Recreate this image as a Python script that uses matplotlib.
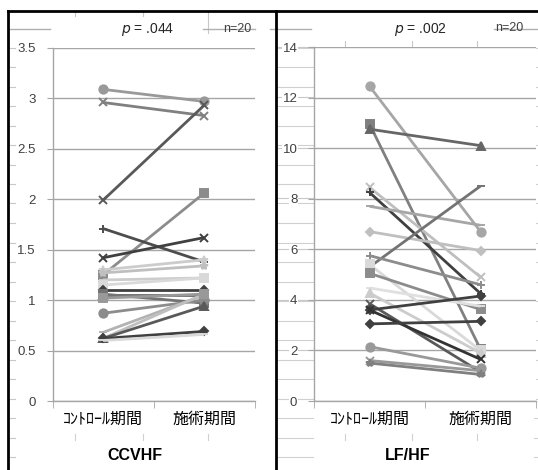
import matplotlib
matplotlib.use("Agg")
import matplotlib.pyplot as plt
from matplotlib.lines import Line2D

# data (control period -> treatment period, n=20)
categories = ["ｺﾝﾄﾛｰﾙ期間", "施術期間"]

ccvhf_control = [3.09, 2.96, 1.99, 1.25, 1.71, 1.42, 1.30, 1.27, 1.20, 1.15,
                 1.10, 1.05, 1.06, 0.87, 0.68, 0.62, 0.62, 0.62, 0.60, 1.02]
ccvhf_treat = [2.97, 2.83, 2.93, 2.06, 1.38, 1.62, 1.40, 1.34, 1.22, 1.22,
               1.10, 1.05, 0.97, 1.00, 1.05, 1.06, 0.94, 0.69, 0.66, 1.06]

lfhf_control = [12.45, 10.95, 10.75, 8.45, 8.25, 7.70, 6.70, 5.30, 5.75, 5.40,
                5.05, 4.47, 4.27, 3.85, 3.60, 3.60, 3.05, 2.15, 1.60, 1.50]
lfhf_treat = [6.70, 2.05, 10.10, 4.90, 4.25, 6.95, 5.95, 8.50, 4.60, 2.00,
              3.62, 3.75, 1.90, 1.15, 4.15, 1.65, 3.15, 1.30, 1.20, 1.05]

ccvhf_ticks = [0, 0.5, 1, 1.5, 2, 2.5, 3, 3.5]
ccvhf_ticklabels = ["0", "0.5", "1", "1.5", "2", "2.5", "3", "3.5"]
lfhf_ticks = [0, 2, 4, 6, 8, 10, 12, 14]

# styles (grayscale Excel look)
ccvhf_markers = ['o', 'x', 'x', 's', '+', 'x', '*', '*', '_', 's',
                 'D', '^', 's', 'o', '_', '^', '^', 'D', '_', 's']
ccvhf_colors = ['#999999', '#808080', '#595959', '#8c8c8c', '#4d4d4d', '#404040',
                '#cccccc', '#bfbfbf', '#cccccc', '#d9d9d9', '#404040', '#666666',
                '#737373', '#8c8c8c', '#b3b3b3', '#bfbfbf', '#595959', '#404040',
                '#d9d9d9', '#999999']
lfhf_markers = ['o', 's', '^', 'x', '+', '_', 'D', '_', '+', 's',
                's', '_', '^', 'x', 'D', 'x', 'D', 'o', 'x', '*']
lfhf_colors = ['#a6a6a6', '#808080', '#666666', '#bfbfbf', '#404040', '#a6a6a6',
               '#bfbfbf', '#737373', '#8c8c8c', '#d9d9d9', '#8c8c8c', '#e0e0e0',
               '#cccccc', '#595959', '#404040', '#333333', '#404040', '#999999',
               '#999999', '#808080']

plt.rcParams['font.family'] = ['Liberation Sans', 'Noto Sans CJK JP', 'DejaVu Sans']

W, H = 538, 470
fig = plt.figure(figsize=(W / 100, H / 100), dpi=100)


def fx(x):
    return x / W


def fy(y):
    return 1 - y / H


def hline(x0, x1, y, color, lw=1.0, z=0):
    fig.add_artist(Line2D([fx(x0), fx(x1)], [fy(y), fy(y)], transform=fig.transFigure,
                          color=color, lw=lw, zorder=z))


def vline(x, y0, y1, color, lw=1.0, z=0):
    fig.add_artist(Line2D([fx(x), fx(x)], [fy(y0), fy(y1)], transform=fig.transFigure,
                          color=color, lw=lw, zorder=z))


# worksheet row / column lines peeking out around the charts
rows = [28 + 19.5 * k for k in range(23)]
for r in rows[1:]:
    hline(10, 15, r, '#c8c8c8', 0.8)
    hline(278, 313, r, '#d0d0d0', 0.8)
    hline(534, 538, r, '#d0d0d0', 0.8)
for y in [47, 97, 148, 198, 249, 300, 350]:
    hline(278, 313, y, '#c8c8c8', 0.8)
for c in [75, 143]:
    vline(c, 12, 16, '#c8c8c8', 0.8)
    vline(c, 434, 440, '#d0d0d0', 0.8)
vline(208, 12, 33, '#c8c8c8', 0.8)
vline(208, 434, 440, '#d0d0d0', 0.8)
for c in [345, 412, 477]:
    vline(c, 41, 47, '#c8c8c8', 0.8)
    vline(c, 434, 440, '#d0d0d0', 0.8)
hline(10, 50, 29, '#b0b0b0', 1.0)
hline(203, 255, 29, '#b0b0b0', 1.0)
hline(270, 311, 29, '#b0b0b0', 1.0)
hline(494, 538, 29, '#b0b0b0', 1.0)

# black cell borders
hline(8, 538, 11, 'black', 2.0, 5)
vline(8, 11, 470, 'black', 2.0, 5)
vline(276, 11, 470, 'black', 2.0, 5)


def draw_panel(rect, control, treat, markers, colors, ymax, ticks, ticklabels):
    ax = fig.add_axes(rect)
    ax.set_facecolor('white')
    for c0, c1, m, col in zip(control, treat, markers, colors):
        ms = 4.5 if m == 'D' else 6
        ax.plot([0, 1], [c0, c1], color=col, lw=2.0, marker=m, markersize=ms,
                markeredgewidth=1.4, markerfacecolor=col, markeredgecolor=col,
                solid_capstyle='butt', zorder=3)
    ax.set_xlim(-0.5, 1.5)
    ax.set_ylim(0, ymax)
    ax.set_yticks(ticks)
    ax.set_yticklabels(ticklabels)
    ax.yaxis.grid(True, color='#a6a6a6', lw=1.0)
    ax.set_axisbelow(True)
    ax.set_xticks([0, 1])
    ax.set_xticklabels(categories, family=['Noto Sans CJK JP'], fontsize=11.5,
                       color='black')
    ax.set_xticks([-0.5, 0.5, 1.5], minor=True)
    ax.tick_params(axis='x', which='major', length=0, pad=7)
    ax.tick_params(axis='x', which='minor', length=5, color='#a6a6a6')
    ax.tick_params(axis='y', length=4, color='#a6a6a6', labelsize=9.5,
                   labelcolor='#404040', pad=8)
    for s in ['top', 'right']:
        ax.spines[s].set_visible(False)
    for s in ['left', 'bottom']:
        ax.spines[s].set_color('#a6a6a6')
        ax.spines[s].set_linewidth(1.0)
    for lab in ax.get_yticklabels():
        lab.set_bbox(dict(facecolor='white', edgecolor='none', pad=0.5))
    return ax


draw_panel([fx(52.5), fy(401), 202 / W, 353 / H], ccvhf_control, ccvhf_treat,
           ccvhf_markers, ccvhf_colors, 3.5, ccvhf_ticks, ccvhf_ticklabels)
draw_panel([fx(314), fy(401), 222 / W, 354 / H], lfhf_control, lfhf_treat,
           lfhf_markers, lfhf_colors, 14, lfhf_ticks, [str(t) for t in lfhf_ticks])

# text boxes
fig.text(fx(148), fy(29), r"$p$ = .044", ha='center', va='center', fontsize=10,
         color='#262626', zorder=6)
fig.text(fx(237), fy(29), "n=20", ha='center', va='center', fontsize=9,
         color='#404040', zorder=6)
fig.text(fx(421), fy(29), r"$p$ = .002", ha='center', va='center', fontsize=10,
         color='#262626', zorder=6)
fig.text(fx(509), fy(28), "n=20", ha='center', va='center', fontsize=9,
         color='#404040', zorder=6)
fig.text(fx(135), fy(455), "CCVHF", ha='center', va='center', fontsize=11.5,
         fontweight='bold', color='black')
fig.text(fx(408), fy(455), "LF/HF", ha='center', va='center', fontsize=11.5,
         fontweight='bold', color='black')

fig.savefig("out.png", dpi=100, facecolor='white')
